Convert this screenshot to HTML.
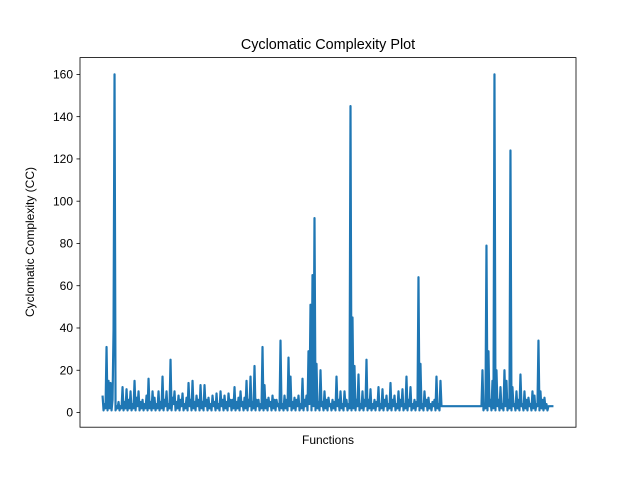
<!DOCTYPE html>
<html><head><meta charset="utf-8">
<style>
html,body{margin:0;padding:0;background:#fff;}
svg{display:block;font-family:"Liberation Sans","DejaVu Sans",sans-serif;}
</style></head>
<body>
<svg id="chart" width="640" height="480" viewBox="0 0 640 480">
  <rect x="0" y="0" width="640" height="480" fill="#fff"/>
  <text x="328" y="49" text-anchor="middle" font-size="14.4" fill="#000">Cyclomatic Complexity Plot</text>
  <g id="plot"></g>
  <g id="yaxis"></g>
  <rect x="80" y="57.6" width="496" height="369.6" fill="none" stroke="#000" stroke-width="0.8"/>
  <text x="328" y="444" text-anchor="middle" font-size="12" fill="#000">Functions</text>
  <text x="0" y="0" transform="translate(34,242) rotate(-90)" text-anchor="middle" font-size="12" fill="#000">Cyclomatic Complexity (CC)</text>
</svg>
<script>
const yTicks = [0, 20, 40, 60, 80, 100, 120, 140, 160];
const ccValues = [
  8,1,4,2,31,1,15,2,14,1,6,39,160,1,3,2,5,1,3,2,
  12,1,5,2,11,1,6,2,10,1,4,2,15,1,7,3,10,1,5,2,
  6,1,4,2,8,1,16,2,5,1,10,2,7,1,4,2,10,1,5,2,
  17,1,6,3,10,1,4,2,25,1,7,4,10,1,5,2,8,1,6,3,
  9,1,4,2,7,1,14,3,6,1,15,2,5,1,8,3,6,1,13,2,
  5,1,13,3,6,1,7,2,4,1,8,3,5,1,9,2,4,1,10,3,
  6,1,8,2,5,1,9,3,6,1,6,2,12,1,5,2,7,1,10,3,
  5,1,7,2,15,1,6,3,17,1,5,2,22,1,6,3,6,1,4,2,
  31,1,13,2,6,1,7,3,5,1,8,2,6,1,6,3,4,1,34,2,
  4,1,8,2,6,1,26,3,17,1,5,2,7,1,6,3,8,1,4,2,
  16,1,6,3,8,1,29,4,51,1,65,3,92,1,23,2,5,1,20,3,
  5,1,10,2,6,1,7,3,4,1,6,2,5,1,17,3,6,1,10,2,
  4,1,10,3,6,1,4,2,145,1,45,2,22,1,6,3,18,1,4,2,
  10,1,6,3,25,1,6,2,11,1,4,2,6,1,5,3,12,1,4,2,
  11,1,6,3,8,1,4,2,14,1,6,3,8,1,4,2,10,1,6,3,
  11,1,4,2,17,1,6,3,12,1,4,2,6,1,5,3,64,1,23,2,
  4,1,10,3,6,1,7,2,4,1,5,3,6,1,17,2,4,1,15,3,
  3,3,3,3,3,3,3,3,3,3,3,3,3,3,3,3,3,3,3,3,
  3,3,3,3,3,3,3,3,3,3,3,3,3,3,3,3,3,3,3,3,
  20,1,4,2,79,1,29,3,6,1,15,2,160,1,20,3,6,1,12,2,
  4,1,20,3,15,1,6,2,124,1,12,3,4,1,10,2,6,1,18,3,
  4,1,10,2,6,1,7,3,4,1,10,2,8,1,4,3,34,1,10,2,
  6,1,7,2,4,1,3,3,3,3,3,3
];

const NS = "http://www.w3.org/2000/svg";
const L = 80, R = 576, T = 57.6, B = 427.2;
const n = ccValues.length;
const xMin = 0, xMax = n - 1, xPad = (xMax - xMin) * 0.05;
const yMin = 1, yMax = 160, yPad = (yMax - yMin) * 0.05;
function xScale(i){ return L + (i - (xMin - xPad)) / ((xMax + xPad) - (xMin - xPad)) * (R - L); }
function yScale(v){ return B - (v - (yMin - yPad)) / ((yMax + yPad) - (yMin - yPad)) * (B - T); }

const yaxis = document.getElementById('yaxis');
yTicks.forEach(t => {
  const y = yScale(t);
  const ln = document.createElementNS(NS, 'line');
  ln.setAttribute('x1', L - 3.5); ln.setAttribute('x2', L);
  ln.setAttribute('y1', y); ln.setAttribute('y2', y);
  ln.setAttribute('stroke', '#000'); ln.setAttribute('stroke-width', '0.8');
  
  
  yaxis.appendChild(ln);
  const tx = document.createElementNS(NS, 'text');
  tx.setAttribute('x', L - 7); tx.setAttribute('y', y + 4.2);
  tx.setAttribute('text-anchor', 'end'); tx.setAttribute('font-size', '12');
  tx.textContent = t;
  
  
  yaxis.appendChild(tx);
});

const plot = document.getElementById('plot');
let d = '';
ccValues.forEach((v, i) => { d += (i ? 'L' : 'M') + xScale(i).toFixed(2) + ',' + yScale(v).toFixed(2); });
const path = document.createElementNS(NS, 'path');
path.setAttribute('d', d);
path.setAttribute('fill', 'none');
path.setAttribute('stroke', '#1f77b4');
path.setAttribute('stroke-width', '2.2');
path.setAttribute('stroke-linejoin', 'round');


plot.appendChild(path);
</script>
</body></html>
